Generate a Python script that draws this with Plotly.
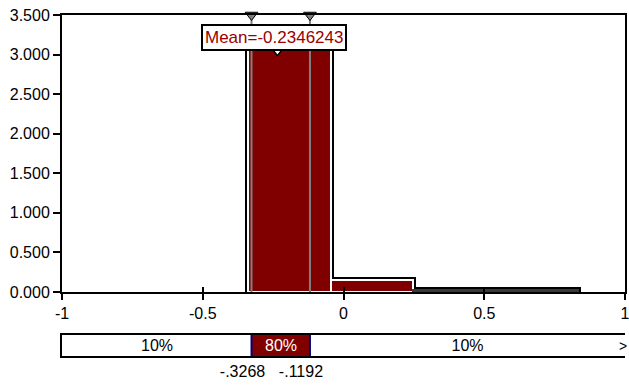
import plotly.graph_objects as go

# ---- data ----
bin_edges = [-0.338, -0.0455, 0.247, 0.5395, 0.832]
bin_heights = [3.25, 0.155, 0.03, 0.028]
mean_value = -0.2346243
p_low, p_high = -0.3268, -0.1192
p_labels = ["-.3268", "-.1192"]
seg_labels = ["10%", "80%", "10%"]
x_ticks = [-1, -0.5, 0, 0.5, 1]
x_tick_text = ["-1", "-0.5", "0", "0.5", "1"]
y_ticks = [0, 0.5, 1.0, 1.5, 2.0, 2.5, 3.0, 3.5]
y_tick_text = ["%.3f" % v for v in y_ticks]

RED = "#800000"
FONT = "Liberation Sans, Arial, sans-serif"

centers = [(a + b) / 2 for a, b in zip(bin_edges[:-1], bin_edges[1:])]
widths = [b - a for a, b in zip(bin_edges[:-1], bin_edges[1:])]
# thin bars look like a dark line in the reference
rim_colors = ["white" if h > 0.1 else "#3a3a3a" for h in bin_heights]

fig = go.Figure()

# histogram: black outer outline, then red bars with white inner rim
fig.add_trace(go.Bar(x=centers, y=bin_heights, width=widths,
                     marker=dict(color="black", line=dict(color="black", width=6)),
                     hoverinfo="skip", showlegend=False))
fig.add_trace(go.Bar(x=centers, y=bin_heights, width=widths,
                     marker=dict(color=RED, line=dict(color=rim_colors, width=2)),
                     showlegend=False))

# percentile delimiter lines
top = y_ticks[-1]
fig.add_trace(go.Scatter(x=[p_low, p_low, None, p_high, p_high],
                         y=[0, top, None, 0, top], mode="lines",
                         line=dict(color="#808080", width=2),
                         hoverinfo="skip", showlegend=False))
fig.add_trace(go.Scatter(x=[p_low, p_high], y=[top, top], mode="markers",
                         marker=dict(symbol="triangle-down", size=11, color="#808080",
                                     line=dict(color="black", width=1)),
                         cliponaxis=False, showlegend=False))
# mean marker
fig.add_trace(go.Scatter(x=[mean_value], y=[3.05], mode="markers",
                         marker=dict(symbol="triangle-down", size=10, color="white",
                                     line=dict(color="black", width=1.5)),
                         cliponaxis=False, showlegend=False))

# invisible trace for crossing tick marks axis
fig.add_trace(go.Scatter(x=[None], y=[None], xaxis="x3", yaxis="y", showlegend=False))

# percentile bar below
seg_left = [x_ticks[0], p_low, p_high]
seg_right = [p_low, p_high, x_ticks[-1]]
fig.add_trace(go.Bar(orientation="h", y=[0, 0, 0],
                     x=[r - l for l, r in zip(seg_left, seg_right)], base=seg_left,
                     width=1, marker=dict(color=["white", RED, "white"], line=dict(width=0)),
                     text=seg_labels, textposition="inside", insidetextanchor="middle",
                     constraintext="none",
                     textfont=dict(family=FONT, size=16, color=["black", "white", "black"]),
                     xaxis="x2", yaxis="y2", showlegend=False))
fig.add_trace(go.Scatter(x=[p_low, p_low, None, p_high, p_high],
                         y=[-0.5, 0.5, None, -0.5, 0.5], mode="lines",
                         line=dict(color="#000080", width=2),
                         xaxis="x2", yaxis="y2", cliponaxis=False, showlegend=False))

fig.add_annotation(x=mean_value, y=3.22, xref="x", yref="y",
                   text="Mean=-0.2346243", showarrow=False,
                   font=dict(family=FONT, size=17, color="#990000"),
                   bgcolor="white", bordercolor="black", borderwidth=2,
                   borderpad=2, xshift=-3)
fig.add_annotation(x=x_ticks[-1], y=0, xref="x2", yref="y2", text=">",
                   showarrow=False, xanchor="right", xshift=4, yshift=-1,
                   font=dict(family=FONT, size=14, color="black"))

fig.update_layout(
    width=629, height=385,
    margin=dict(l=62, r=4, t=15, b=10),
    paper_bgcolor="white", plot_bgcolor="white",
    barmode="overlay", bargap=0,
    font=dict(family=FONT, size=16, color="black"),
    xaxis=dict(domain=[0, 1], range=[x_ticks[0], x_ticks[-1]], anchor="y",
               tickvals=x_ticks, ticktext=x_tick_text, ticks="outside", ticklen=6,
               tickwidth=1.5, tickcolor="black", ticklabeloverflow="allow",
               showline=True, linewidth=2, linecolor="black", mirror=True,
               showgrid=False, zeroline=False, automargin=False,
               tickfont=dict(family=FONT, size=16)),
    xaxis3=dict(overlaying="x", matches="x", anchor="y", tickvals=x_ticks,
                ticks="inside", ticklen=5, tickwidth=1.5, tickcolor="black",
                showticklabels=False, showline=False, showgrid=False,
                zeroline=False, automargin=False),
    yaxis=dict(domain=[0.2306, 1], range=[0, top], anchor="x",
               tickvals=y_ticks, ticktext=y_tick_text, ticks="outside", ticklen=7,
               tickwidth=1.5, tickcolor="black", ticklabeloverflow="allow",
               showline=True, linewidth=2, linecolor="black", mirror=True,
               showgrid=False, zeroline=False, automargin=False,
               tickfont=dict(family=FONT, size=16)),
    xaxis2=dict(matches="x", anchor="y2", tickvals=[p_low, p_high], ticktext=p_labels,
                ticks="", showline=True, linewidth=2, linecolor="black", mirror=True,
                showgrid=False, zeroline=False, automargin=False, ticklabelshift=-9,
                ticklabeloverflow="allow", tickfont=dict(family=FONT, size=16)),
    yaxis2=dict(domain=[0.0528, 0.1111], range=[-0.5, 0.5], anchor="x2",
                showline=True, linewidth=2, linecolor="black", ticks="",
                showticklabels=False, showgrid=False, zeroline=False, automargin=False),
)

fig.write_html("out.html", config={"displayModeBar": False},
               post_script="document.body.style.margin='0';"
                           "document.body.style.overflow='hidden';")
